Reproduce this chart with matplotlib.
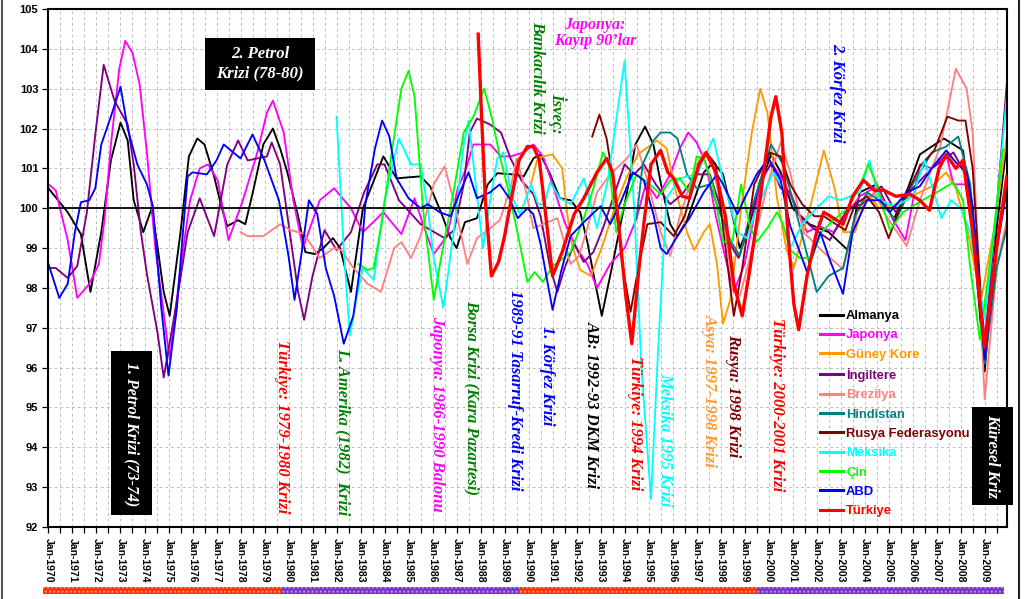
import matplotlib
matplotlib.use("Agg")
import matplotlib.pyplot as plt
from matplotlib.patches import Rectangle
from matplotlib.lines import Line2D
import numpy as np

# ---------------- data (index, years as decimal) ----------------
almanya_x = [1970.0, 1970.8, 1971.35, 1971.75, 1972.2, 1972.6, 1973.0, 1973.3, 1973.55, 1973.95, 1974.3, 1974.55, 1974.8, 1975.05, 1975.5, 1975.85, 1976.2, 1976.5, 1976.9, 1977.2, 1977.45, 1977.9, 1978.2, 1978.55, 1978.95, 1979.35, 1979.65, 1979.95, 1980.4, 1980.7, 1981.1, 1981.45, 1981.85, 1982.15, 1982.6, 1983.1, 1983.95, 1984.5, 1985.5, 1985.9, 1986.35, 1986.75, 1987.0, 1987.35, 1987.85, 1988.3, 1988.7, 1989.3, 1989.8, 1990.2, 1990.5, 1990.9, 1991.3, 1991.75, 1992.15, 1992.45, 1992.75, 1993.05, 1993.5, 1994.1, 1994.45, 1994.85, 1995.2, 1995.5, 1995.9, 1996.2, 1996.6, 1997.3, 1997.7, 1998.1, 1998.5, 1998.8, 1999.2, 1999.75, 2000.1, 2000.5, 2001.0, 2001.7, 2002.5, 2003.3, 2003.8, 2004.5, 2005.2, 2005.8, 2006.3, 2007.3, 2008.1, 2008.5, 2009.0, 2009.5, 2009.92]
almanya_y = [100.5, 99.9, 99.35, 97.9, 99.4, 101.2, 102.15, 101.7, 100.2, 99.4, 100.0, 99.0, 97.9, 97.3, 99.4, 101.3, 101.75, 101.6, 100.8, 100.05, 99.55, 99.7, 99.6, 100.5, 101.6, 102.0, 101.5, 100.9, 99.8, 98.9, 98.85, 99.0, 99.25, 99.0, 97.9, 100.0, 101.3, 100.75, 100.8, 100.55, 99.9, 99.25, 99.0, 99.65, 99.75, 100.6, 100.88, 100.85, 100.8, 101.25, 101.35, 100.85, 100.25, 100.2, 99.9, 99.15, 98.2, 97.3, 98.6, 100.4, 101.6, 102.05, 101.6, 100.65, 99.6, 99.3, 99.7, 100.9, 101.15, 100.85, 99.8, 99.0, 99.6, 100.75, 101.35, 100.9, 100.0, 99.6, 99.4, 98.95, 100.4, 100.6, 99.7, 100.5, 101.35, 101.75, 101.45, 99.5, 95.9, 99.5, 101.6]

japonya_x = [1970.0, 1970.3, 1970.8, 1971.2, 1971.7, 1972.1, 1972.35, 1972.6, 1972.95, 1973.2, 1973.5, 1973.8, 1974.1, 1974.45, 1975.05, 1975.5, 1975.9, 1976.3, 1976.65, 1977.05, 1977.5, 1978.1, 1978.7, 1979.1, 1979.35, 1979.8, 1980.2, 1980.6, 1981.3, 1981.9, 1982.6, 1983.1, 1983.95, 1984.7, 1985.25, 1985.6, 1986.05, 1986.6, 1987.05, 1987.4, 1987.7, 1988.4, 1988.85, 1989.25, 1989.8, 1990.2, 1990.6, 1991.0, 1991.5, 1992.0, 1992.45, 1992.85, 1993.4, 1994.0, 1994.5, 1994.9, 1995.35, 1995.9, 1996.3, 1996.65, 1997.0, 1997.4, 1997.8, 1998.2, 1998.55, 1999.0, 1999.65, 2000.1, 2000.6, 2001.0, 2001.6, 2002.1, 2002.7, 2003.8, 2004.5, 2005.2, 2005.7, 2006.3, 2006.8, 2007.4, 2007.7, 2008.2, 2008.6, 2009.0, 2009.5, 2009.92]
japonya_y = [100.6, 100.45, 99.2, 97.75, 98.1, 98.6, 99.8, 101.6, 103.5, 104.2, 103.9, 103.1, 101.4, 99.0, 96.2, 98.5, 100.2, 101.0, 101.1, 100.7, 99.2, 100.2, 101.4, 102.4, 102.7, 101.9, 100.2, 99.0, 100.2, 100.5, 100.0, 99.4, 99.9, 99.35, 100.25, 99.6, 98.85, 99.3, 100.5, 101.0, 101.6, 101.6, 101.3, 101.3, 101.4, 101.6, 101.3, 100.6, 99.65, 99.0, 98.6, 98.0, 98.6, 99.0, 99.75, 100.65, 100.25, 100.85, 101.5, 101.9, 101.65, 101.1, 99.8, 98.75, 97.9, 98.6, 100.6, 101.15, 100.7, 100.2, 99.4, 99.55, 99.4, 100.3, 100.55, 99.7, 99.2, 101.1, 101.0, 101.35, 100.6, 100.6, 99.4, 96.7, 99.0, 100.4]

guney_kore_x = [1990.1, 1990.35, 1990.6, 1991.0, 1991.4, 1991.6, 1991.8, 1992.15, 1992.6, 1993.1, 1993.5, 1994.0, 1994.55, 1995.35, 1995.75, 1996.1, 1996.6, 1996.9, 1997.3, 1997.55, 1997.85, 1998.1, 1998.4, 1998.9, 1999.3, 1999.65, 1999.95, 2000.35, 2000.75, 2001.05, 2001.8, 2002.3, 2002.75, 2003.1, 2003.6, 2004.1, 2004.6, 2005.3, 2005.95, 2006.8, 2007.4, 2007.8, 2008.3, 2008.85, 2009.4, 2009.92]
guney_kore_y = [100.6, 101.2, 101.3, 101.35, 101.0, 99.9, 99.1, 98.45, 98.3, 99.1, 99.85, 100.65, 101.35, 101.7, 101.5, 100.5, 99.4, 98.95, 99.4, 99.6, 98.6, 97.1, 97.7, 100.2, 101.9, 103.0, 102.4, 100.25, 98.95, 98.5, 100.2, 101.45, 100.5, 99.4, 99.4, 100.4, 100.0, 100.1, 100.3, 100.55, 100.9, 100.5, 99.4, 97.7, 99.5, 101.8]

ingiltere_x = [1970.0, 1970.3, 1970.8, 1971.2, 1971.6, 1971.95, 1972.3, 1972.75, 1973.3, 1973.55, 1973.85, 1974.1, 1974.55, 1974.8, 1975.3, 1975.8, 1976.3, 1976.9, 1977.45, 1977.9, 1978.3, 1978.7, 1979.1, 1979.3, 1979.65, 1980.05, 1980.4, 1980.65, 1981.0, 1981.5, 1982.0, 1982.6, 1983.15, 1983.7, 1984.0, 1984.6, 1985.5, 1986.5, 1986.9, 1987.3, 1987.55, 1987.85, 1988.4, 1988.85, 1989.25, 1989.7, 1990.2, 1990.5, 1990.9, 1991.2, 1991.5, 1991.9, 1992.3, 1992.7, 1993.1, 1993.6, 1994.0, 1994.4, 1994.8, 1995.3, 1995.9, 1996.4, 1997.0, 1997.55, 1997.95, 1998.4, 1998.75, 1999.1, 1999.65, 2000.1, 2000.5, 2000.9, 2001.3, 2001.85, 2002.55, 2003.3, 2003.9, 2004.7, 2005.3, 2006.0, 2006.8, 2007.7, 2008.25, 2008.6, 2009.0, 2009.5, 2009.92]
ingiltere_y = [98.5, 98.5, 98.25, 98.55, 99.9, 101.85, 103.6, 102.7, 102.1, 101.1, 99.4, 98.35, 96.85, 95.75, 97.5, 99.4, 100.25, 99.3, 101.1, 101.7, 101.2, 101.25, 101.3, 101.65, 101.1, 99.4, 97.9, 97.2, 98.3, 99.45, 98.95, 99.4, 100.4, 101.1, 101.1, 100.2, 99.6, 99.25, 99.45, 100.6, 101.9, 102.25, 102.1, 101.9, 101.25, 100.7, 100.35, 99.8, 98.5, 97.9, 98.5, 99.1, 98.65, 98.9, 99.5, 100.4, 101.1, 100.85, 101.1, 100.6, 100.1, 100.35, 100.85, 100.85, 100.1, 99.1, 98.75, 99.4, 100.7, 101.1, 100.5, 100.4, 99.8, 99.5, 99.2, 100.0, 100.1, 100.55, 99.9, 100.5, 101.0, 101.4, 100.8, 99.4, 96.6, 100.0, 103.1]

brezilya_x = [1978.0, 1978.3, 1978.95, 1979.65, 1980.1, 1980.65, 1981.3, 1981.9, 1982.2, 1982.7, 1983.3, 1983.85, 1984.4, 1984.7, 1985.1, 1985.5, 1986.05, 1986.5, 1986.9, 1987.45, 1987.85, 1988.3, 1988.8, 1989.25, 1989.5, 1989.9, 1990.2, 1990.6, 1991.2, 1991.75, 1992.1, 1992.4, 1992.85, 1993.4, 1994.1, 1994.5, 1994.9, 1995.5, 1995.9, 1996.3, 1997.0, 1997.3, 1997.7, 1998.1, 1998.5, 1998.8, 1999.2, 2000.0, 2000.5, 2000.9, 2001.45, 2002.15, 2003.1, 2003.7, 2004.4, 2004.9, 2005.75, 2006.3, 2007.15, 2007.8, 2008.25, 2008.5, 2009.0, 2009.5, 2009.92]
brezilya_y = [99.4, 99.3, 99.3, 99.6, 99.45, 99.35, 98.75, 99.0, 98.95, 98.5, 98.1, 97.9, 99.0, 99.15, 98.75, 99.3, 100.6, 101.05, 100.15, 98.6, 99.25, 99.45, 99.7, 100.5, 101.25, 100.4, 99.5, 99.6, 99.75, 98.6, 98.8, 99.4, 100.4, 100.85, 101.25, 101.6, 100.8, 99.4, 98.8, 99.8, 101.1, 101.4, 101.0, 99.8, 98.1, 97.8, 98.7, 100.7, 101.65, 100.9, 99.4, 98.97, 98.47, 99.9, 100.4, 99.8, 99.05, 100.2, 101.55, 103.5, 103.0, 101.9, 95.2, 98.5, 99.7]

hindistan_x = [1994.5, 1994.75, 1995.2, 1995.5, 1995.9, 1996.2, 1996.6, 1997.0, 1997.55, 1997.9, 1998.4, 1998.8, 1999.3, 2000.1, 2000.6, 2001.1, 2001.6, 2002.0, 2002.5, 2003.1, 2003.6, 2004.1, 2004.6, 2005.3, 2006.0, 2006.8, 2007.4, 2007.9, 2008.4, 2009.0, 2009.5, 2009.92]
hindistan_y = [99.75, 101.1, 101.7, 101.9, 101.9, 101.75, 100.85, 100.5, 100.6, 100.0, 99.2, 98.8, 100.0, 101.6, 101.1, 100.0, 98.85, 97.9, 98.3, 98.5, 99.8, 100.4, 100.2, 99.7, 100.6, 101.4, 101.55, 101.8, 100.6, 96.1, 98.5, 99.5]

rusya_x = [1992.65, 1992.95, 1993.25, 1993.55, 1993.9, 1994.25, 1994.6, 1994.95, 1995.5, 1996.05, 1996.5, 1997.0, 1997.4, 1997.8, 1998.1, 1998.55, 1998.9, 1999.4, 2000.05, 2000.5, 2000.9, 2001.4, 2001.9, 2002.3, 2002.8, 2003.2, 2003.6, 2004.1, 2004.6, 2005.0, 2005.5, 2006.3, 2006.9, 2007.45, 2007.9, 2008.2, 2008.5, 2009.0, 2009.5, 2009.92]
rusya_y = [101.8, 102.35, 101.75, 100.6, 98.6, 97.4, 98.6, 99.6, 99.65, 99.3, 99.8, 100.85, 101.4, 101.1, 99.5, 97.3, 98.5, 100.6, 101.4, 101.3, 100.6, 100.1, 99.8, 99.8, 99.6, 99.45, 100.1, 100.3, 99.9, 99.25, 100.05, 101.05, 101.45, 102.3, 102.2, 102.2, 101.0, 96.3, 99.0, 100.5]

meksika_x = [1982.0, 1982.3, 1982.55, 1982.85, 1983.1, 1983.55, 1984.0, 1984.6, 1985.1, 1985.5, 1985.8, 1986.05, 1986.45, 1986.9, 1987.3, 1987.5, 1987.8, 1988.1, 1988.4, 1988.7, 1988.95, 1989.3, 1989.65, 1990.1, 1990.4, 1990.65, 1990.9, 1991.3, 1991.75, 1992.3, 1992.85, 1993.3, 1993.6, 1994.0, 1994.4, 1994.7, 1995.1, 1995.4, 1995.75, 1996.3, 1997.0, 1997.7, 1998.1, 1998.7, 1999.1, 1999.5, 2000.2, 2000.6, 2000.9, 2001.4, 2002.0, 2002.5, 2003.0, 2003.8, 2004.2, 2004.6, 2005.3, 2006.0, 2006.5, 2007.2, 2007.6, 2008.0, 2008.4, 2009.0, 2009.5, 2009.92]
meksika_y = [102.3, 99.0, 96.8, 97.8, 98.5, 98.2, 100.2, 101.75, 101.1, 101.1, 100.0, 98.75, 97.5, 99.5, 101.6, 102.2, 100.6, 99.0, 100.2, 101.25, 101.4, 100.3, 99.85, 100.6, 100.1, 100.1, 100.65, 100.25, 100.1, 100.75, 99.5, 100.7, 102.0, 103.7, 100.0, 96.0, 92.7, 96.5, 100.25, 100.75, 100.85, 101.75, 100.7, 99.4, 99.25, 100.0, 100.9, 100.5, 99.0, 99.6, 100.0, 100.3, 100.2, 100.4, 101.2, 100.2, 100.05, 100.3, 101.2, 99.75, 100.2, 100.0, 99.4, 97.2, 100.0, 102.8]

cin_x = [1982.9, 1983.3, 1983.55, 1983.9, 1984.3, 1984.7, 1985.0, 1985.25, 1985.6, 1986.05, 1986.4, 1986.9, 1987.3, 1987.7, 1988.15, 1988.5, 1988.8, 1989.1, 1989.5, 1989.95, 1990.25, 1990.6, 1991.0, 1991.35, 1991.75, 1992.3, 1992.7, 1993.1, 1993.35, 1993.65, 1994.0, 1994.5, 1995.05, 1995.5, 1995.9, 1996.3, 1996.7, 1997.0, 1997.3, 1997.7, 1998.1, 1998.5, 1998.85, 1999.2, 1999.5, 2000.0, 2000.35, 2000.6, 2000.9, 2001.3, 2001.8, 2002.2, 2002.7, 2003.3, 2003.8, 2004.15, 2004.5, 2005.05, 2005.6, 2006.4, 2007.0, 2007.7, 2008.1, 2008.4, 2008.8, 2009.3, 2009.75, 2009.92]
cin_y = [98.6, 98.45, 98.5, 99.7, 101.4, 103.0, 103.45, 102.8, 100.0, 97.7, 98.9, 100.5, 101.9, 102.3, 103.0, 102.2, 101.3, 100.6, 99.5, 98.15, 98.4, 98.15, 98.55, 98.7, 98.9, 99.75, 100.5, 101.4, 101.1, 99.4, 100.1, 100.85, 100.6, 100.35, 100.7, 100.75, 100.4, 101.3, 101.25, 100.5, 99.15, 99.2, 100.6, 99.6, 99.15, 99.55, 99.9, 99.6, 98.95, 98.75, 98.75, 99.4, 99.7, 100.0, 100.55, 101.1, 100.6, 99.45, 99.9, 100.2, 100.4, 100.65, 100.2, 98.5, 96.7, 99.0, 101.45, 101.5]

abd_x = [1970.0, 1970.45, 1970.8, 1971.1, 1971.35, 1971.7, 1971.95, 1972.2, 1972.6, 1973.0, 1973.3, 1973.7, 1974.1, 1974.35, 1974.7, 1975.0, 1975.35, 1975.6, 1975.8, 1976.0, 1976.6, 1977.0, 1977.3, 1977.7, 1978.0, 1978.5, 1979.0, 1979.6, 1980.0, 1980.25, 1980.55, 1980.85, 1981.2, 1981.55, 1981.9, 1982.3, 1982.7, 1983.0, 1983.2, 1983.6, 1983.9, 1984.2, 1984.5, 1985.0, 1985.5, 1985.8, 1986.3, 1986.75, 1987.1, 1987.5, 1987.85, 1988.4, 1988.8, 1989.2, 1989.55, 1989.95, 1990.2, 1990.5, 1990.8, 1991.0, 1991.35, 1991.75, 1992.3, 1993.0, 1993.4, 1993.8, 1994.35, 1994.8, 1995.2, 1995.5, 1995.75, 1996.2, 1996.7, 1997.3, 1997.85, 1998.1, 1998.7, 1999.0, 1999.5, 2000.0, 2000.5, 2000.9, 2001.3, 2001.6, 2002.15, 2002.55, 2003.1, 2003.5, 2004.1, 2004.65, 2005.05, 2005.75, 2006.3, 2006.85, 2007.4, 2007.8, 2008.25, 2008.5, 2009.0, 2009.5, 2009.92]
abd_y = [98.6, 97.75, 98.1, 99.4, 100.15, 100.2, 100.5, 101.6, 102.3, 103.05, 102.0, 101.1, 100.6, 100.05, 97.5, 95.8, 97.5, 99.4, 100.8, 100.9, 100.85, 101.2, 101.6, 101.4, 101.25, 101.85, 101.2, 100.2, 98.8, 97.7, 98.9, 100.2, 99.85, 98.5, 97.8, 96.6, 97.3, 98.6, 100.1, 101.5, 102.2, 101.8, 100.75, 100.25, 100.0, 100.1, 99.9, 99.8, 100.35, 100.9, 100.25, 100.4, 100.6, 100.25, 99.75, 100.0, 99.85, 99.1, 98.1, 97.45, 98.4, 99.3, 99.65, 100.05, 99.6, 100.1, 100.9, 100.7, 99.85, 99.0, 98.85, 99.3, 99.75, 100.4, 100.85, 100.6, 99.85, 100.25, 100.85, 101.25, 100.7, 99.55, 98.9, 98.4, 99.4, 98.7, 97.85, 99.4, 100.2, 100.2, 99.9, 100.4, 100.55, 101.05, 101.45, 101.15, 100.9, 100.05, 96.2, 99.0, 100.6]

turkiye_x = [1987.9, 1988.05, 1988.2, 1988.45, 1988.75, 1989.0, 1989.3, 1989.6, 1989.95, 1990.2, 1990.45, 1990.7, 1991.0, 1991.4, 1991.9, 1992.3, 1992.85, 1993.25, 1993.5, 1993.75, 1994.05, 1994.3, 1994.6, 1994.8, 1995.1, 1995.5, 1995.8, 1996.05, 1996.4, 1996.7, 1997.1, 1997.4, 1997.8, 1998.2, 1998.55, 1998.9, 1999.2, 1999.65, 2000.1, 2000.3, 2000.55, 2000.8, 2001.05, 2001.25, 2001.6, 2002.0, 2002.3, 2002.7, 2003.1, 2003.5, 2003.95, 2004.4, 2004.8, 2005.3, 2005.9, 2006.3, 2006.7, 2007.1, 2007.4, 2007.8, 2008.1, 2008.5, 2009.0, 2009.5, 2009.92]
turkiye_y = [104.37, 102.2, 100.2, 98.3, 98.65, 99.3, 100.3, 101.2, 101.55, 101.55, 101.2, 99.9, 98.3, 98.9, 99.85, 100.25, 100.9, 101.25, 100.9, 99.6, 97.8, 96.6, 98.5, 99.6, 101.1, 101.45, 100.9, 100.75, 100.3, 100.25, 101.1, 101.4, 100.9, 99.8, 98.1, 97.3, 98.4, 100.25, 102.3, 102.8, 101.9, 99.4, 97.6, 96.95, 98.3, 99.4, 99.9, 99.75, 99.6, 100.3, 100.7, 100.45, 100.45, 100.3, 100.35, 100.2, 99.95, 101.0, 101.35, 101.0, 101.2, 99.4, 96.5, 99.0, 100.8]

series_names = ["Almanya", "Japonya", "Güney Kore", "İngiltere", "Brezilya", "Hindistan",
                "Rusya Federasyonu", "Meksika", "Çin", "ABD", "Türkiye"]
series_x = [almanya_x, japonya_x, guney_kore_x, ingiltere_x, brezilya_x, hindistan_x,
            rusya_x, meksika_x, cin_x, abd_x, turkiye_x]
series_y = [almanya_y, japonya_y, guney_kore_y, ingiltere_y, brezilya_y, hindistan_y,
            rusya_y, meksika_y, cin_y, abd_y, turkiye_y]
series_colors = ["#000000", "#FF00FF", "#FF9900", "#800080", "#FF8080", "#008080",
                 "#800000", "#00FFFF", "#00FF00", "#0000FF", "#FF0000"]

years = list(range(1970, 2010))
tick_labels = [f"Jan-{y}" for y in years]

# ---------------- figure ----------------
W, H = 1027, 599
fig = plt.figure(figsize=(W / 100, H / 100), dpi=100)
fig.patch.set_facecolor("white")


def fx(x):
    return x / W


def fy(y):
    return 1 - y / H


ax = fig.add_axes([fx(48), fy(527), (1007 - 48) / W, (527 - 9) / H])
ax.set_xlim(1969.98, 2009.93)
ax.set_ylim(92, 105)

sans = "Liberation Sans"
serif = "Liberation Serif"

for nm, xs, ys, c in zip(series_names, series_x, series_y, series_colors):
    lw = 2.4 if nm == "Türkiye" else 1.35
    z = 4 if nm == "Türkiye" else 2
    ax.plot(xs, ys, color=c, lw=lw, label=nm, zorder=z, solid_joinstyle="round")

ax.axhline(100, color="black", lw=1.3, zorder=3.5)

ax.set_xticks(years)
ax.set_xticklabels(tick_labels, rotation=270, fontsize=7.5, fontweight="bold",
                   family=sans, va="top", ha="center")
ax.set_xticks([y + 0.5 for y in years], minor=True)
ax.set_yticks(range(92, 106))
ax.set_yticklabels([str(v) for v in range(92, 106)], fontsize=8, fontweight="bold", family=sans)
ax.tick_params(axis="x", which="both", direction="out", length=4, width=0.9, pad=4)
ax.tick_params(axis="y", which="both", direction="out", length=4, width=0.9, pad=3)
ax.grid(True, axis="x", which="both", ls=(0, (3, 3)), color="#BDBDBD", lw=0.7, zorder=0)
ax.grid(True, axis="y", which="major", ls=(0, (3, 3)), color="#BDBDBD", lw=0.7, zorder=0)
ax.set_axisbelow(True)
for s in ax.spines.values():
    s.set_linewidth(1.5)

# legend
leg = ax.legend(loc="upper left", bbox_to_anchor=(fx(820), fy(310)), bbox_transform=fig.transFigure,
                frameon=False, prop={"family": sans, "weight": "bold", "size": 9.4},
                handlelength=1.75, handletextpad=0.25, labelspacing=0.55, borderpad=0,
                borderaxespad=0)
for t, c in zip(leg.get_texts(), series_colors):
    t.set_color(c)
for h in leg.legend_handles:
    h.set_linewidth(2.2)
leg.set_zorder(6)

# black boxes
def box(x0, y0, x1, y1):
    fig.add_artist(Rectangle((fx(x0), fy(y1)), (x1 - x0) / W, (y1 - y0) / H,
                             transform=fig.transFigure, facecolor="black", edgecolor="none", zorder=7))

box(111, 351, 152, 515)
box(205, 38, 315, 90)
box(972, 407, 1013, 505)

tk = dict(fontweight="bold", style="italic", family=serif, ha="center", va="center", zorder=8)
fig.text(fx(131.5), fy(434), "1. Petrol Krizi (73-74)", color="white", rotation=270, fontsize=11.5, **tk)
fig.text(fx(260), fy(64), "2. Petrol\nKrizi (78-80)", color="white", fontsize=12, linespacing=1.3, **tk)
fig.text(fx(992.5), fy(456), "Küresel Kriz", color="white", rotation=270, fontsize=11.8, **tk)

ann = [
    (282, 427, "Türkiye: 1979-1980 Krizi", "#FF0000"),
    (343, 432, "L. Amerika (1982)  Krizi", "#008000"),
    (437, 414, "Japonya: 1986-1990 Balonu", "#FF00FF"),
    (472, 397, "Borsa Krizi (Kara Pazartesi)", "#008000"),
    (515, 390, "1989-91 Tasarruf-Kredi Krizi", "#0000FF"),
    (547, 376, "1. Körfez Krizi", "#0000FF"),
    (592, 405, "AB: 1992-93 DKM Krizi", "#000000"),
    (635, 423, "Türkiye: 1994 Krizi", "#FF0000"),
    (665, 440, "Meksika 1995 Krizi", "#00FFFF"),
    (710, 391, "Asya: 1997-1998 Krizi", "#FF9933"),
    (733, 396, "Rusya: 1998 Krizi", "#800000"),
    (777, 405, "Türkiye: 2000-2001 Krizi", "#FF0000"),
    (837, 93, "2. Körfez Krizi", "#0000FF"),
]
for x, y, s, c in ann:
    fig.text(fx(x), fy(y), s, color=c, rotation=270, fontsize=12, **tk)

# İsveç note: two rotated lines, both ending at the same bottom
tkb = dict(tk)
tkb["va"] = "bottom"
fig.text(fx(537), fy(134), "Bankacılık Krizi", color="#008000", rotation=270, fontsize=12, **tkb)
fig.text(fx(557.5), fy(134), "İsveç:", color="#008000", rotation=270, fontsize=12, **tkb)
fig.text(fx(595), fy(33), "Japonya:\nKayıp 90’lar", color="#FF00FF", fontsize=11.5,
         linespacing=1.0, **tk)

# bottom decade bar
for (x0, x1), c in zip([(43, 281), (281, 519), (519, 757), (757, 1004)],
                       ["#FF3300", "#7A2FD0", "#FF3300", "#7A2FD0"]):
    fig.add_artist(Rectangle((fx(x0), fy(594)), (x1 - x0) / W, 7 / H, transform=fig.transFigure,
                             facecolor=c, edgecolor=(1, 1, 1, 0.45), hatch="....", lw=0))

# outer frame lines
fig.add_artist(Line2D([fx(2), fx(2)], [0, 1], color="#555555", lw=1.5, transform=fig.transFigure))
fig.add_artist(Line2D([fx(1019), fx(1019)], [0, 1], color="#222222", lw=1.5, transform=fig.transFigure))

fig.savefig("out.png", dpi=100)
